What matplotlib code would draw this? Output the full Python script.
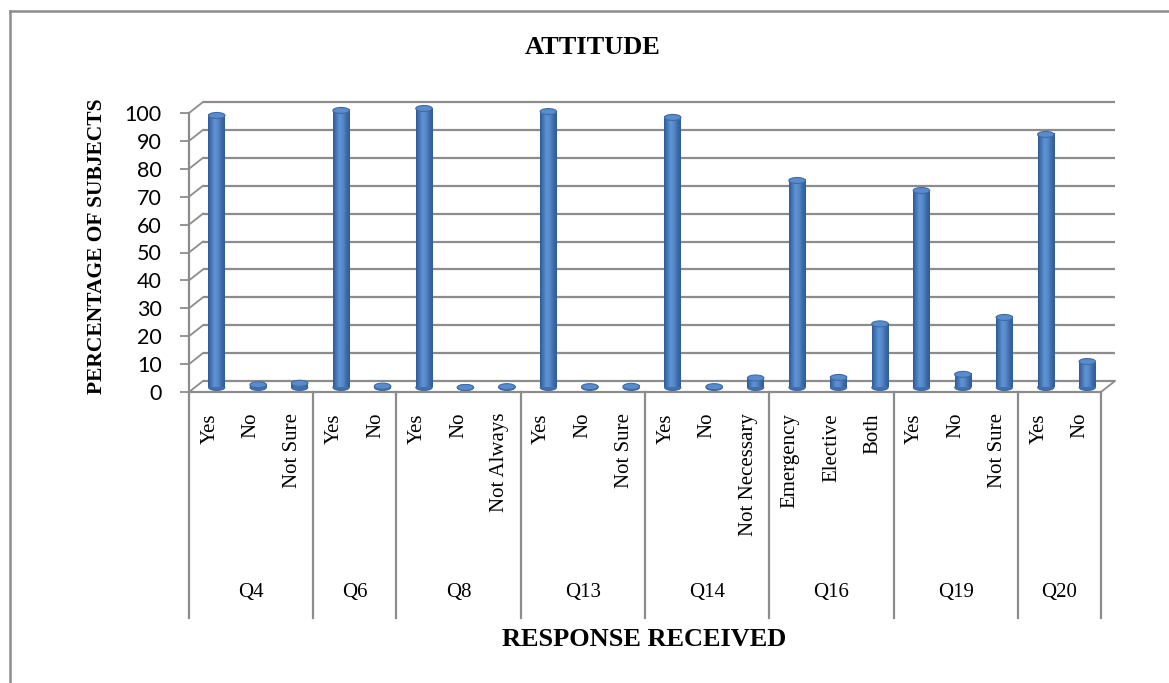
import numpy as np
import matplotlib
matplotlib.use("Agg")
import matplotlib.pyplot as plt
import matplotlib.transforms as mtransforms
from matplotlib.patches import Ellipse
from matplotlib.lines import Line2D
from matplotlib.colors import LinearSegmentedColormap

# Attitude survey: percentage of subjects per response
questions = ["Q4", "Q6", "Q8", "Q13", "Q14", "Q16", "Q19", "Q20"]
responses = [
    ["Yes", "No", "Not Sure"],
    ["Yes", "No"],
    ["Yes", "No", "Not Always"],
    ["Yes", "No", "Not Sure"],
    ["Yes", "No", "Not Necessary"],
    ["Emergency", "Elective", "Both"],
    ["Yes", "No", "Not Sure"],
    ["Yes", "No"],
]
percentages = [
    [97.5, 1.0, 1.5],
    [99.3, 0.5],
    [100.0, 0.0, 0.3],
    [98.9, 0.3, 0.4],
    [96.8, 0.3, 3.4],
    [74.2, 3.6, 22.8],
    [70.6, 4.7, 25.1],
    [90.7, 9.3],
]
y_ticks = list(range(0, 101, 10))

W, H, DPI = 1169, 683, 100
fig = plt.figure(figsize=(W / DPI, H / DPI), dpi=DPI)

# plot area in pixels: front-left axis at x=189, floor at y=392, 100 at y=113
px_left, px_right, px_floor, px_top = 189, 1101, 392, 113
ax = fig.add_axes([px_left / W, 1 - px_floor / H,
                   (px_right - px_left) / W, (px_floor - px_top) / H])

labels = [r for grp in responses for r in grp]
values = [v for grp in percentages for v in grp]
n = len(labels)
xs = np.arange(n) + 0.5

ax.set_xlim(0, n)
ax.set_ylim(0, 100)

# 3-D depth of the wall (pixels) converted to data units
px_per_x = (px_right - px_left) / n
px_per_y = (px_floor - px_top) / 100
depth_px = (14, 11)
ddx, ddy = depth_px[0] / px_per_x, depth_px[1] / px_per_y

grid_col = "#8c8c8c"
for v in y_ticks:
    ax.plot([ddx, n + ddx], [v + ddy, v + ddy], color=grid_col, lw=1.6,
            clip_on=False, zorder=1, solid_capstyle="butt")
    ax.plot([0, ddx], [v, v + ddy], color=grid_col, lw=1.3, clip_on=False, zorder=1)
# floor outline
ax.plot([n, n + ddx], [0, ddy], color=grid_col, lw=1.3, clip_on=False, zorder=1)

# cylinders sit midway into the depth
bar_trans = mtransforms.offset_copy(ax.transData, fig=fig, x=7, y=4.5, units="dots")
bar_w = 16.5 / px_per_x
cap_h = 6 / px_per_y
shade = LinearSegmentedColormap.from_list(
    "cyl", ["#2f5b93", "#4878b9", "#6095d4", "#5587c8", "#3d6ba7", "#305d96"])
grad = np.linspace(0, 1, 64).reshape(1, -1)

for x, v in zip(xs, values):
    # base rounding
    ax.add_patch(Ellipse((x, 0), bar_w, cap_h, transform=bar_trans, clip_on=False,
                         facecolor="#3f6fad", edgecolor="#35619a", lw=0.6, zorder=3))
    if v > 0:
        im = ax.imshow(grad, cmap=shade, extent=(x - bar_w / 2, x + bar_w / 2, 0, v),
                       transform=bar_trans, aspect="auto", interpolation="bilinear",
                       zorder=4)
        im.set_clip_on(False)
    ax.add_patch(Ellipse((x, v), bar_w, cap_h, transform=bar_trans, clip_on=False,
                         facecolor="#5a8bca", edgecolor="#3f6ca7", lw=0.8, zorder=5))

ax.set_xlim(0, n)
ax.set_ylim(0, 100)

for side in ["top", "right", "bottom"]:
    ax.spines[side].set_visible(False)
ax.spines["left"].set_color(grid_col)
ax.spines["left"].set_linewidth(1.6)
ax.spines["left"].set_zorder(2)
ax.axhline(0, color=grid_col, lw=1.6, zorder=2, clip_on=False)
ax.set_xticks([])
ax.set_yticks(y_ticks)
ax.tick_params(axis="y", length=6.5, width=1.3, color=grid_col, pad=13,
               labelsize=15.5)
for t in ax.get_yticklabels():
    t.set_fontfamily("Lato")

# two-level category axis below the floor
serif = "Liberation Serif"
label_trans = mtransforms.offset_copy(ax.transData, fig=fig, x=0, y=-21, units="dots")
for x, lab in zip(xs, labels):
    ax.text(x, 0, lab, rotation=90, ha="center", va="top", fontsize=15,
            family=serif, transform=label_trans)

sep_trans = mtransforms.blended_transform_factory(ax.transData, ax.transAxes)
sep_bottom = -(618 - px_floor) / (px_floor - px_top)
group_trans = mtransforms.offset_copy(ax.transData, fig=fig, x=0, y=-201, units="dots")
start = 0
bounds = [0]
for q, grp in zip(questions, responses):
    end = start + len(grp)
    ax.text((start + end) / 2, 0, q, ha="center", va="center", fontsize=15,
            family=serif, transform=group_trans)
    bounds.append(end)
    start = end
for b in bounds:
    ax.plot([b, b], [0, sep_bottom], color=grid_col, lw=1.6, transform=sep_trans,
            clip_on=False, zorder=2)

fig.text(593 / W, 1 - 48 / H, "ATTITUDE", ha="center", va="center",
         fontsize=19, fontweight="bold", family=serif)
fig.text(644 / W, 1 - 640 / H, "RESPONSE RECEIVED", ha="center", va="center",
         fontsize=19, fontweight="bold", family=serif)
fig.text(97 / W, 1 - 246 / H, "PERCENTAGE OF SUBJECTS", ha="center", va="center",
         rotation=90, fontsize=15.5, fontweight="bold", family=serif)

# outer chart frame (top and left edges)
fig.add_artist(Line2D([9.5 / W, 1], [1 - 10.5 / H, 1 - 10.5 / H],
                      transform=fig.transFigure, color="#8c8c8c", lw=1.8))
fig.add_artist(Line2D([9.5 / W, 9.5 / W], [0, 1 - 10.5 / H],
                      transform=fig.transFigure, color="#8c8c8c", lw=1.8))

fig.savefig("out.png", dpi=DPI)
